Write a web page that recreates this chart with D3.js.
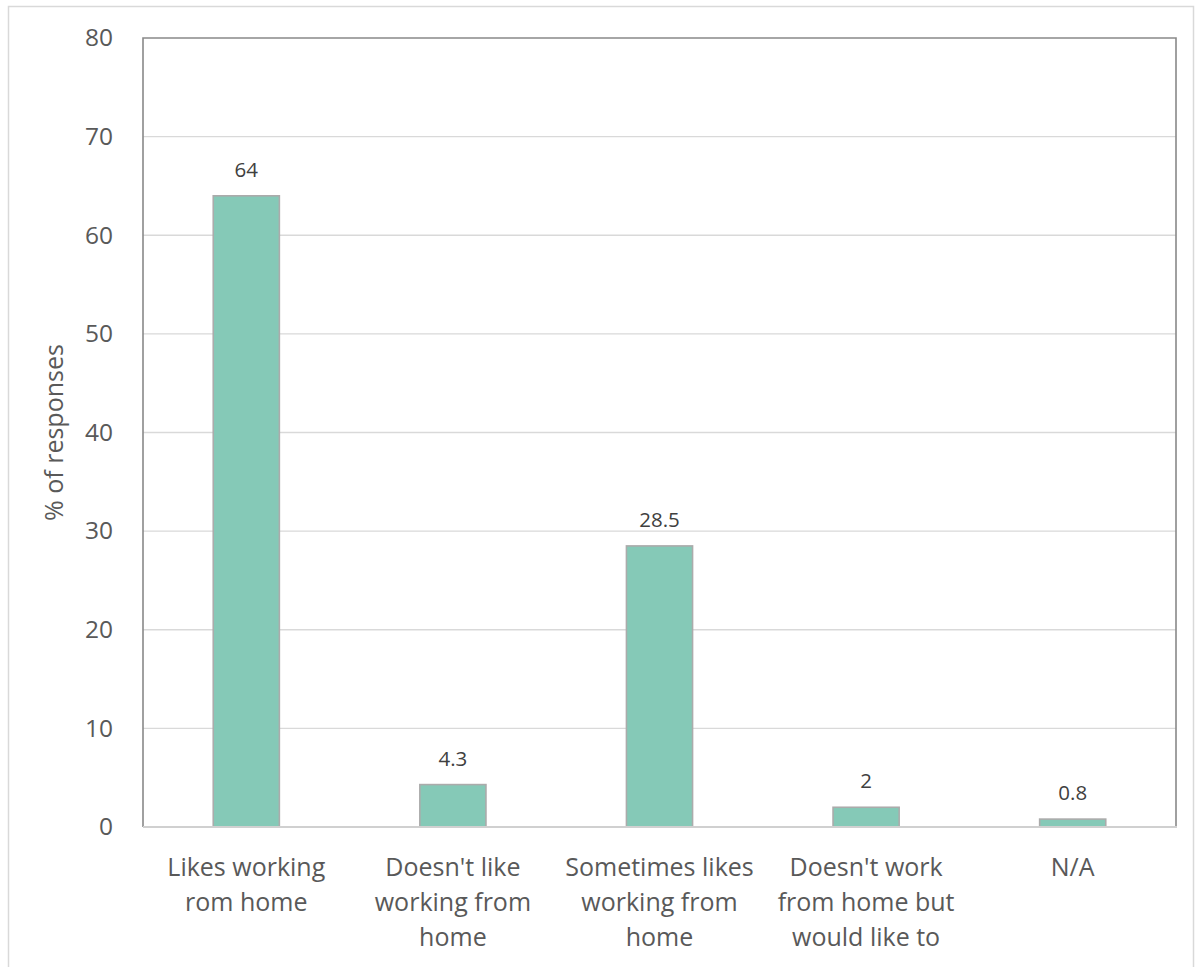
<!DOCTYPE html>
<html>
<head>
<meta charset="utf-8">
<script src="https://cdn.jsdelivr.net/npm/d3@7"></script>
<style>
  html, body { margin: 0; padding: 0; background: #ffffff; }
  svg { display: block; font-family: "Open Sans", "Noto Sans", sans-serif; }
</style>
</head>
<body>
<svg id="chart" width="1203" height="967"></svg>
<script>
// Survey responses: attitude towards working from home
const categories = [
  "Likes working\nrom home",
  "Doesn't like\nworking from\nhome",
  "Sometimes likes\nworking from\nhome",
  "Doesn't work\nfrom home but\nwould like to",
  "N/A"
];
const values = [64, 4.3, 28.5, 2, 0.8];
const valueLabels = ["64", "4.3", "28.5", "2", "0.8"];
const yTicks = [0, 10, 20, 30, 40, 50, 60, 70, 80];
const yTitle = "% of responses";

const svg = d3.select("#chart");
const plot = { left: 143, top: 38, right: 1176, bottom: 827 };

// outer chart frame
svg.append("rect")
  .attr("x", 8.5).attr("y", 6.5)
  .attr("width", 1185).attr("height", 980)
  .attr("fill", "#ffffff")
  .attr("stroke", "#d9d9d9").attr("stroke-width", 1.5);

const x = d3.scaleBand()
  .domain(categories)
  .range([plot.left, plot.right])
  .padding(0);

const y = d3.scaleLinear()
  .domain([0, 80])
  .range([plot.bottom, plot.top]);

// horizontal gridlines
svg.append("g")
  .selectAll("line")
  .data(yTicks.filter(d => d > 0 && d < 80))
  .join("line")
  .attr("x1", plot.left).attr("x2", plot.right)
  .attr("y1", d => y(d)).attr("y2", d => y(d))
  .attr("stroke", "#d9d9d9").attr("stroke-width", 1.3);

// y axis tick labels
const yAxis = d3.axisLeft(y).tickValues(yTicks).tickSize(0).tickPadding(30);
const yG = svg.append("g")
  .attr("transform", `translate(${plot.left},0)`)
  .call(yAxis);
yG.select(".domain").remove();
yG.selectAll("text")
  .attr("font-size", 24.5)
  .attr("fill", "#595959")
  .attr("font-family", "'Open Sans', sans-serif");

// y axis title
svg.append("text")
  .attr("transform", `translate(63,${(plot.top + plot.bottom) / 2}) rotate(-90)`)
  .attr("text-anchor", "middle")
  .attr("font-size", 25)
  .attr("fill", "#595959")
  .text(yTitle);

// bars
const barFrac = 0.32;
const bw = x.bandwidth() * barFrac;
svg.append("g")
  .selectAll("rect")
  .data(values)
  .join("rect")
  .attr("x", (d, i) => x(categories[i]) + (x.bandwidth() - bw) / 2)
  .attr("y", d => y(d))
  .attr("width", bw)
  .attr("height", d => y(0) - y(d))
  .attr("fill", "#85c9b7")
  .attr("stroke", "#ababab")
  .attr("stroke-width", 1.6);

// value labels
svg.append("g")
  .selectAll("text")
  .data(values)
  .join("text")
  .attr("x", (d, i) => x(categories[i]) + x.bandwidth() / 2)
  .attr("y", d => y(d) - 19)
  .attr("text-anchor", "middle")
  .attr("font-size", 20.5)
  .attr("fill", "#404040")
  .text((d, i) => valueLabels[i]);

// plot frame: dark top and sides, light baseline
svg.append("path")
  .attr("d", `M${plot.left},${plot.bottom}V${plot.top}H${plot.right}V${plot.bottom}`)
  .attr("fill", "none")
  .attr("stroke", "#898989").attr("stroke-width", 1.6);
svg.append("line")
  .attr("x1", plot.left).attr("x2", plot.right + 1)
  .attr("y1", plot.bottom).attr("y2", plot.bottom)
  .attr("stroke", "#d0d0d0").attr("stroke-width", 2);

// category labels
const xl = svg.append("g");
categories.forEach(c => {
  const t = xl.append("text")
    .attr("text-anchor", "middle")
    .attr("font-size", 25)
    .attr("fill", "#595959");
  c.split("\n").forEach((line, k) => {
    t.append("tspan")
      .attr("x", x(c) + x.bandwidth() / 2)
      .attr("y", 876 + k * 35)
      .text(line);
  });
});
</script>
</body>
</html>
